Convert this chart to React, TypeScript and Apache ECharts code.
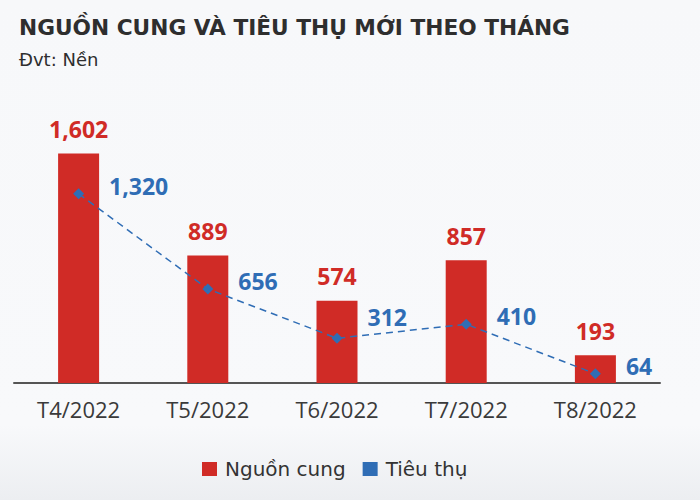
import React, { useEffect, useRef } from "react";
import * as echarts from "echarts";

const categories = ["T4/2022", "T5/2022", "T6/2022", "T7/2022", "T8/2022"];
const supplyValues = [1602, 889, 574, 857, 193];
const consumptionValues = [1320, 656, 312, 410, 64];
const seriesNames = ["Nguồn cung", "Tiêu thụ"];
const titleText = "NGUỒN CUNG VÀ TIÊU THỤ MỚI THEO THÁNG";
const subtitleText = "Đvt: Nền";

const RED = "#d02b26";
const BLUE = "#2f6db5";

export default function App() {
  const ref = useRef<HTMLDivElement>(null);
  useEffect(() => {
    if (!ref.current) return;
    const chart = echarts.init(ref.current, null, { renderer: "svg" });
    const fmt = (v: number) => v.toLocaleString("en-US");
    chart.setOption({
      animation: false,
      backgroundColor: {
        type: "linear",
        x: 0, y: 0, x2: 0, y2: 1,
        colorStops: [
          { offset: 0, color: "#f7f8fa" },
          { offset: 0.85, color: "#f8f9fb" },
          { offset: 1, color: "#eceef1" },
        ],
      },
      title: [
        {
          text: titleText,
          left: 14,
          top: 11,
          textStyle: { fontFamily: "DejaVu Sans", fontWeight: "bold", fontSize: 21.7, color: "#2e2e2e" },
        },
        {
          text: subtitleText,
          left: 14,
          top: 45,
          textStyle: { fontFamily: "DejaVu Sans", fontWeight: "normal", fontSize: 18, color: "#2e2e2e" },
        },
      ],
      legend: {
        data: seriesNames.map((n, i) => ({ name: n, icon: "rect", itemStyle: { color: i === 0 ? RED : BLUE } })),
        left: 197,
        top: 454,
        itemWidth: 15,
        itemHeight: 14,
        itemGap: 17,
        textStyle: { fontFamily: "DejaVu Sans", fontSize: 20, color: "#333", padding: [0, 0, 0, 3] },
      },
      grid: { left: 14, right: 40, top: 125, bottom: 117, containLabel: false },
      xAxis: {
        type: "category",
        data: categories,
        axisLine: { lineStyle: { color: "#555", width: 2 } },
        axisTick: { show: false },
        axisLabel: { fontFamily: "Open Sans", fontSize: 22, color: "#3a3a3a", margin: 15 },
      },
      yAxis: {
        type: "value",
        min: 0,
        max: 1800,
        show: false,
        splitLine: { show: false },
      },
      series: [
        {
          name: seriesNames[0],
          type: "bar",
          data: supplyValues,
          barWidth: 41,
          itemStyle: { color: RED },
          label: {
            show: true,
            position: "top",
            distance: 13,
            formatter: (p: any) => fmt(p.value),
            fontFamily: "Open Sans",
            fontWeight: "bold",
            fontSize: 23,
            color: RED,
          },
        },
        {
          name: seriesNames[1],
          type: "line",
          data: consumptionValues.map((v, i) => ({
            value: v,
            label: { offset: [0, i === 2 ? -21 : -8] },
          })),
          symbol: "diamond",
          symbolSize: 11,
          lineStyle: { color: BLUE, width: 1.5, type: [7, 5] },
          itemStyle: { color: BLUE },
          label: {
            show: true,
            position: "right",
            distance: 25,
            formatter: (p: any) => fmt(p.value),
            fontFamily: "Open Sans",
            fontWeight: "bold",
            fontSize: 23,
            color: BLUE,
          },
        },
      ],
    });
    return () => chart.dispose();
  }, []);
  return <div ref={ref} style={{ position: "fixed", left: 0, top: 0, width: 700, height: 500 }} />;
}
